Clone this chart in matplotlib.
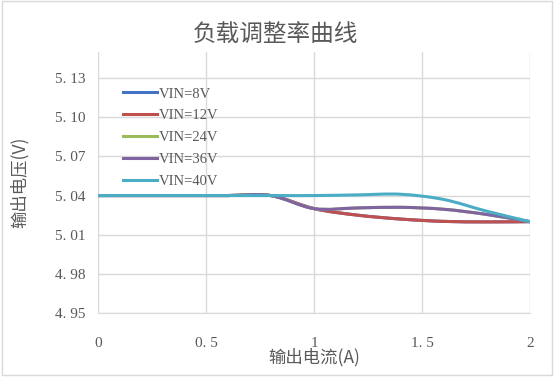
import matplotlib
matplotlib.use('Agg')
import matplotlib.pyplot as plt
from matplotlib.path import Path
from matplotlib.patches import PathPatch, Rectangle
from matplotlib.lines import Line2D

plt.rcParams['font.family'] = ['Noto Sans CJK SC', 'DejaVu Sans']

current = [0, 0.2, 0.4, 0.6, 0.8, 1.0, 1.2, 1.4, 1.6, 1.8, 2.0]
vin_8v = [5.04, 5.04, 5.04, 5.04, 5.04, 5.03, 5.025, 5.022, 5.0202, 5.0198, 5.02]
vin_12v = [5.04, 5.04, 5.04, 5.04, 5.04, 5.03, 5.025, 5.022, 5.0202, 5.0198, 5.02]
vin_24v = [5.04, 5.04, 5.04, 5.04, 5.04, 5.03, 5.0305, 5.031, 5.0295, 5.0255, 5.02]
vin_36v = [5.04, 5.04, 5.04, 5.04, 5.04, 5.03, 5.0305, 5.031, 5.0295, 5.0255, 5.02]
vin_40v = [5.04, 5.04, 5.04, 5.04, 5.04, 5.04, 5.0405, 5.041, 5.037, 5.028, 5.02]

series = [
    ('VIN=8V', vin_8v, '#4472c4'),
    ('VIN=12V', vin_12v, '#c0504d'),
    ('VIN=24V', vin_24v, '#9bbb59'),
    ('VIN=36V', vin_36v, '#8064a2'),
    ('VIN=40V', vin_40v, '#4bacc6'),
]

yticks = [4.95, 4.98, 5.01, 5.04, 5.07, 5.10, 5.13]
ytick_labels = ['4. 95', '4. 98', '5. 01', '5. 04', '5. 07', '5. 10', '5. 13']
xticks = [0, 0.5, 1, 1.5, 2]
xtick_labels = ['0', '0. 5', '1', '1. 5', '2']
text_color = '#595959'
tick_font = ['Liberation Serif', 'DejaVu Serif']


def smooth_path(xs, ys):
    # Excel-style smoothed line: Catmull-Rom converted to cubic Bezier
    verts = [(xs[0], ys[0])]
    codes = [Path.MOVETO]
    n = len(xs)
    for i in range(n - 1):
        x0, y0 = (xs[i - 1], ys[i - 1]) if i > 0 else (xs[i], ys[i])
        x1, y1 = xs[i], ys[i]
        x2, y2 = xs[i + 1], ys[i + 1]
        x3, y3 = (xs[i + 2], ys[i + 2]) if i + 2 < n else (x2, y2)
        c1 = (x1 + (x2 - x0) / 6, y1 + (y2 - y0) / 6)
        c2 = (x2 - (x3 - x1) / 6, y2 - (y3 - y1) / 6)
        verts += [c1, c2, (x2, y2)]
        codes += [Path.CURVE4] * 3
    return Path(verts, codes)


fig = plt.figure(figsize=(5.54, 3.78), dpi=100)
ax = fig.add_axes([98 / 554, 1 - 313 / 378, (530 - 98) / 554, (313 - 52) / 378])

handles = []
for name, vals, color in series:
    patch = PathPatch(smooth_path(current, vals), facecolor='none', edgecolor=color,
                      lw=2.2, capstyle='round', zorder=3)
    ax.add_patch(patch)
    handles.append(Line2D([], [], color=color, lw=2.2, label=name))

ax.set_xlim(0, 2)
ax.set_ylim(4.95, 5.15)
ax.set_xticks(xticks)
ax.set_yticks(yticks)
ax.set_xticklabels(xtick_labels, family=tick_font, fontsize=11, color=text_color)
ax.set_yticklabels(ytick_labels, family=tick_font, fontsize=11, color=text_color)
ax.tick_params(axis='x', length=0, pad=17)
ax.tick_params(axis='y', length=0, pad=9)
ax.grid(True, color='#d9d9d9', lw=1)
ax.set_axisbelow(True)
for side in ['top', 'right', 'left']:
    ax.spines[side].set_visible(False)
ax.spines['bottom'].set_color('#d9d9d9')

ax.set_xlabel('输出电流(A)', fontsize=12.5, color=text_color, labelpad=-1)
ax.set_ylabel('输出电压(V)', fontsize=12.5, color=text_color, labelpad=19)
fig.text(0.497, 1 - 35 / 378, '负载调整率曲线', ha='center', va='center', fontsize=17, color=text_color)

ax.legend(handles=handles, loc='upper left', bbox_to_anchor=(0.028, 0.915), frameon=False,
          prop={'family': tick_font, 'size': 10.5}, labelcolor=text_color,
          handlelength=2.35, handletextpad=0.1, labelspacing=0.6)

fig.patches.append(Rectangle((0.003, 0.008), 0.994, 0.99, transform=fig.transFigure,
                             fill=False, edgecolor='#d9d9d9', lw=1))

fig.savefig('out.png', dpi=100)
